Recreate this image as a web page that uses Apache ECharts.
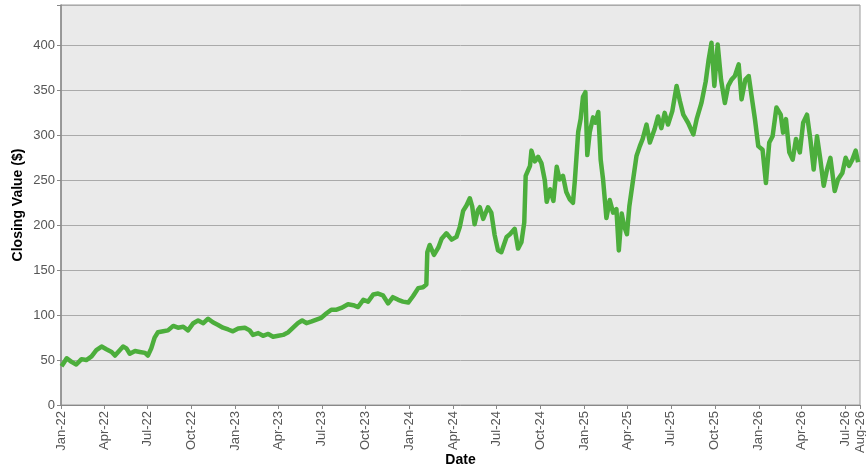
<!DOCTYPE html>
<html>
<head>
<meta charset="utf-8">
<script src="https://cdn.jsdelivr.net/npm/echarts@6/dist/echarts.min.js"></script>
<style>
html,body{margin:0;padding:0;background:#fff;}
#chart{width:866px;height:473px;}
</style>
</head>
<body>
<div id="chart"></div>
<script>
const dates = [
'2022-01-02','2022-01-07','2022-01-13','2022-01-23','2022-02-02','2022-02-13','2022-02-23','2022-03-06','2022-03-16','2022-03-27',
'2022-04-06','2022-04-17','2022-04-24','2022-05-04','2022-05-11','2022-05-18','2022-05-25','2022-06-05','2022-06-15','2022-06-26',
'2022-07-02','2022-07-09','2022-07-16','2022-07-23','2022-08-03','2022-08-13','2022-08-24','2022-09-03','2022-09-14','2022-09-24',
'2022-10-05','2022-10-15','2022-10-26','2022-11-05','2022-11-15','2022-11-26','2022-12-06','2022-12-17','2022-12-27',
'2023-01-07','2023-01-21','2023-01-31','2023-02-07','2023-02-18','2023-02-28','2023-03-11','2023-03-21','2023-04-01','2023-04-11',
'2023-04-22','2023-05-02','2023-05-12','2023-05-21','2023-05-30','2023-06-10','2023-06-20','2023-06-30','2023-07-11','2023-07-21',
'2023-08-01','2023-08-11','2023-08-25','2023-09-05','2023-09-15','2023-09-26','2023-10-06','2023-10-17','2023-10-27','2023-11-06',
'2023-11-17','2023-11-27','2023-12-08','2023-12-18','2023-12-29',
'2024-01-08','2024-01-19','2024-01-29','2024-02-05','2024-02-07','2024-02-12','2024-02-21','2024-03-01','2024-03-08','2024-03-18',
'2024-03-29','2024-04-08','2024-04-15','2024-04-22','2024-04-29','2024-05-06','2024-05-11','2024-05-16','2024-05-23','2024-05-27',
'2024-06-03','2024-06-13','2024-06-20','2024-06-27','2024-07-04','2024-07-11','2024-07-22','2024-07-29','2024-08-08','2024-08-15',
'2024-08-22','2024-08-28','2024-08-31','2024-09-09','2024-09-12','2024-09-19','2024-09-26','2024-10-03','2024-10-10','2024-10-14',
'2024-10-21','2024-10-28','2024-11-04','2024-11-10','2024-11-17','2024-11-24','2024-12-01','2024-12-08','2024-12-12','2024-12-19',
'2024-12-24','2024-12-29',
'2025-01-03','2025-01-07','2025-01-12','2025-01-19','2025-01-24','2025-01-30','2025-02-04','2025-02-09','2025-02-16','2025-02-23',
'2025-03-02','2025-03-09','2025-03-14','2025-03-20','2025-03-25','2025-03-31','2025-04-05','2025-04-13','2025-04-20','2025-04-27',
'2025-05-03','2025-05-11','2025-05-18','2025-05-28','2025-06-04','2025-06-11','2025-06-18','2025-06-25','2025-07-04','2025-07-13',
'2025-07-20','2025-07-27','2025-08-06','2025-08-17','2025-08-24','2025-09-03','2025-09-12','2025-09-18','2025-09-24','2025-09-30',
'2025-10-07','2025-10-14','2025-10-22','2025-10-29','2025-11-05','2025-11-12','2025-11-20','2025-11-26','2025-12-04','2025-12-11',
'2025-12-18','2025-12-24','2025-12-31',
'2026-01-09','2026-01-16','2026-01-23','2026-01-30','2026-02-07','2026-02-16','2026-02-21','2026-02-27','2026-03-06','2026-03-13',
'2026-03-20','2026-03-28','2026-04-04','2026-04-12','2026-04-19','2026-04-26','2026-05-03','2026-05-10','2026-05-17','2026-05-24',
'2026-05-31','2026-06-09','2026-06-16','2026-06-25','2026-07-02','2026-07-09','2026-07-16','2026-07-23','2026-07-28'
];
const closingValues = [
43,47,52,48,45,51,50,54,61,65,
62,59,55,61,65,63,57,60,59,58,
55,63,75,81,82,83,88,86,87,83,
91,94,91,96,92,89,86,84,82,
85,86,83,78,80,77,79,76,77,78,
81,86,91,94,91,93,95,97,102,106,
106,108,112,111,109,117,115,123,124,122,
113,120,117,115,114,
121,130,131,134,170,178,167,175,185,191,
184,187,198,216,222,230,221,201,217,220,
207,220,214,189,172,170,187,190,196,174,
181,203,255,266,283,271,276,269,250,226,
240,227,265,251,255,237,229,225,250,304,
318,343,
348,278,303,320,314,326,273,251,208,228,
214,218,172,213,199,190,221,251,277,288,
296,312,292,307,321,308,325,312,327,355,
338,323,314,301,318,336,360,384,403,355,
401,362,336,355,362,366,379,340,362,366,
340,318,288,
284,247,292,299,331,323,303,318,281,273,
296,281,314,323,296,262,299,273,244,262,
275,238,251,258,275,266,273,283,270
];
const tickDates = ['2022-01-01','2022-04-01','2022-07-01','2022-10-01','2023-01-01','2023-04-01','2023-07-01','2023-10-01',
'2024-01-01','2024-04-01','2024-07-01','2024-10-01','2025-01-01','2025-04-01','2025-07-01','2025-10-01',
'2026-01-01','2026-04-01','2026-07-01','2026-08-01'];
const tickLabels = ['Jan-22','Apr-22','Jul-22','Oct-22','Jan-23','Apr-23','Jul-23','Oct-23',
'Jan-24','Apr-24','Jul-24','Oct-24','Jan-25','Apr-25','Jul-25','Oct-25',
'Jan-26','Apr-26','Jul-26','Aug-26'];

const toTs = s => { const p = s.split('-'); return Date.UTC(+p[0], +p[1]-1, +p[2]); };
const tickTs = tickDates.map(toTs);
const labelMap = {};
tickTs.forEach((t,i)=>{ labelMap[t] = tickLabels[i]; });
const seriesData = dates.map((d,i)=>[toTs(d), closingValues[i]]);

const chart = echarts.init(document.getElementById('chart'));
chart.setOption({
  animation:false,
  backgroundColor:'#ffffff',
  grid:{left:61,right:6,top:5,bottom:68,show:true,backgroundColor:'#eaeaea',borderColor:'#9a9a9a',borderWidth:1,
        containLabel:false, outerBoundsMode:'none'},
  xAxis:{
    type:'value',
    min:tickTs[0], max:tickTs[tickTs.length-1],
    name:'Date', nameLocation:'middle', nameGap:48, nameMoveOverlap:false,
    nameTextStyle:{fontFamily:'Liberation Sans, Arial, sans-serif',fontWeight:'bold',fontSize:14,color:'#000'},
    axisLine:{show:true,lineStyle:{color:'#888',width:1}},
    axisTick:{show:true,length:4,lineStyle:{color:'#888'},customValues:tickTs},
    splitLine:{show:false},
    axisLabel:{
      customValues:tickTs, rotate:90, margin:6, hideOverlap:false,
      fontFamily:'Liberation Sans, Arial, sans-serif', fontSize:13, color:'#555',
      formatter:v=>labelMap[v]||''
    }
  },
  yAxis:{
    type:'value', min:0, max:445, interval:50,
    name:'Closing Value ($)', nameLocation:'middle', nameGap:36, nameMoveOverlap:false,
    nameTextStyle:{fontFamily:'Liberation Sans, Arial, sans-serif',fontWeight:'bold',fontSize:14,color:'#000'},
    axisLine:{show:true,lineStyle:{color:'#888',width:1.5}},
    axisTick:{show:true,length:4,lineStyle:{color:'#888'}},
    splitLine:{show:true,lineStyle:{color:'#aaaaaa',width:1}},
    axisLabel:{fontFamily:'Liberation Sans, Arial, sans-serif',fontSize:13,color:'#555',margin:6,
      formatter:v=> (v%50===0 ? String(v) : '')}
  },
  series:[{
    type:'line', data:seriesData, showSymbol:false, symbol:'none',
    lineStyle:{color:'#4cae3c',width:4.5,join:'round'},
    itemStyle:{color:'#4cae3c'}
  }]
});
</script>
</body>
</html>
